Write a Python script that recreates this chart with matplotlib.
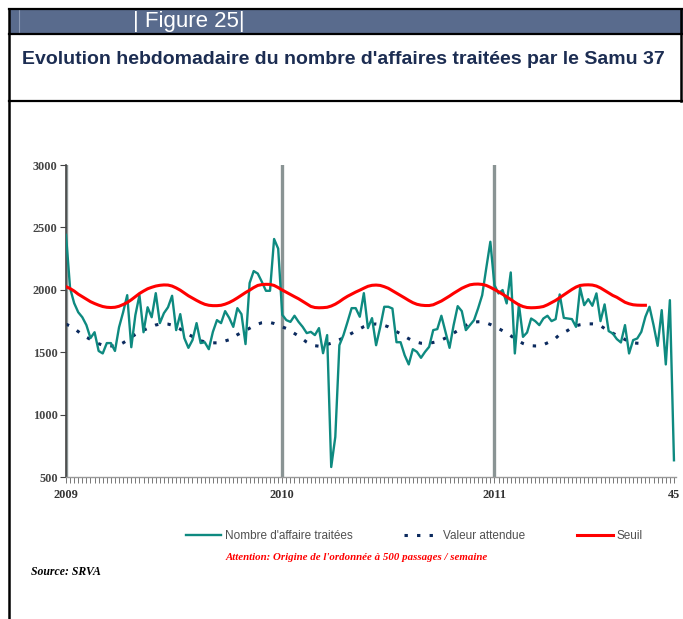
import numpy as np
import matplotlib
matplotlib.use('Agg')
import matplotlib.pyplot as plt
from matplotlib.lines import Line2D
from matplotlib.patches import Rectangle

# weekly values, week 1 of 2009 to week 45 of 2011
affaires = [2440, 2013, 1893, 1820, 1780, 1717, 1613, 1660, 1510, 1490,
            1573, 1573, 1510, 1700, 1820, 1957, 1540, 1797, 1957, 1660,
            1860, 1780, 1973, 1733, 1813, 1860, 1952, 1677, 1805, 1613,
            1535, 1597, 1733, 1573, 1580, 1524, 1663, 1757, 1733, 1829,
            1775, 1703, 1853, 1805, 1565, 2054, 2150, 2130, 2064, 1992,
            1992, 2407, 2330, 1800, 1757, 1743, 1792, 1743, 1703, 1653,
            1663, 1637, 1693, 1492, 1637, 580, 821, 1556, 1637, 1743,
            1853, 1853, 1784, 1973, 1693, 1773, 1556, 1700, 1864, 1864,
            1850, 1580, 1580, 1476, 1402, 1524, 1503, 1455, 1503, 1543,
            1677, 1685, 1792, 1663, 1535, 1717, 1869, 1829, 1677, 1717,
            1757, 1851, 1957, 2174, 2385, 2038, 1971, 1998, 1891, 2139,
            1490, 1883, 1623, 1658, 1770, 1749, 1717, 1770, 1792, 1749,
            1765, 1963, 1775, 1770, 1765, 1703, 2016, 1877, 1925, 1872,
            1971, 1749, 1883, 1669, 1650, 1605, 1578, 1717, 1490, 1597,
            1610, 1663, 1784, 1864, 1717, 1551, 1837, 1402, 1917, 634]

attendue = [1725, 1710, 1690, 1665, 1640, 1620, 1603, 1585, 1568, 1557,
            1552, 1550, 1550, 1558, 1575, 1595, 1620, 1642, 1660, 1677,
            1690, 1705, 1718, 1725, 1727, 1725, 1717, 1703, 1685, 1665,
            1643, 1625, 1608, 1592, 1583, 1578, 1575, 1575, 1580, 1590,
            1600, 1620, 1640, 1657, 1675, 1692, 1710, 1725, 1736, 1740,
            1738, 1730, 1718, 1703, 1690, 1670, 1650, 1630, 1605, 1580,
            1562, 1552, 1548, 1552, 1562, 1572, 1585, 1600, 1615, 1633,
            1652, 1670, 1688, 1705, 1718, 1724, 1726, 1723, 1715, 1703,
            1685, 1665, 1647, 1627, 1608, 1592, 1580, 1572, 1570, 1572,
            1578, 1585, 1598, 1613, 1633, 1652, 1672, 1693, 1715, 1732,
            1740, 1744, 1743, 1735, 1722, 1708, 1690, 1672, 1654, 1632,
            1608, 1588, 1570, 1558, 1552, 1550, 1550, 1560, 1575, 1590,
            1612, 1642, 1658, 1675, 1698, 1712, 1720, 1725, 1727, 1727,
            1725, 1712, 1690, 1670, 1652, 1635, 1618, 1600, 1585, 1575,
            1572, 1570, 1570]

seuil = [2025, 2010, 1990, 1965, 1945, 1925, 1905, 1890, 1877, 1866,
         1860, 1858, 1860, 1868, 1882, 1898, 1920, 1945, 1970, 1990,
         2008, 2020, 2030, 2036, 2039, 2038, 2030, 2015, 1997, 1975,
         1952, 1933, 1915, 1898, 1884, 1876, 1873, 1873, 1876, 1885,
         1898, 1915, 1935, 1957, 1978, 1997, 2018, 2035, 2042, 2044,
         2043, 2035, 2018, 1998, 1980, 1962, 1945, 1928, 1908, 1887,
         1867, 1858, 1856, 1857, 1860, 1870, 1885, 1905, 1928, 1948,
         1965, 1982, 1997, 2013, 2028, 2036, 2038, 2035, 2025, 2012,
         1993, 1975, 1955, 1935, 1915, 1897, 1884, 1877, 1874, 1874,
         1880, 1895, 1910, 1930, 1950, 1972, 1992, 2012, 2027, 2040,
         2045, 2046, 2043, 2035, 2020, 2003, 1985, 1965, 1944, 1922,
         1900, 1880, 1866, 1858, 1856, 1857, 1860, 1866, 1880, 1898,
         1915, 1937, 1960, 1982, 2003, 2022, 2035, 2039, 2040, 2038,
         2030, 2015, 1995, 1975, 1955, 1940, 1920, 1900, 1888, 1880,
         1877, 1876, 1876]

tick_pos = [0, 53, 105, 149]
tick_labels = ['2009', '2010', '2011', '45']
year_lines = [0, 53, 105]

W, H = 683, 619
fig = plt.figure(figsize=(W / 100, H / 100), dpi=100)

# frame and header band
fig.add_artist(Rectangle((9 / W, 1 - 34 / H), 1 - 9 / W, 25 / H, transform=fig.transFigure,
                         facecolor='#596b8d', edgecolor='none'))
fig.add_artist(Line2D([19 / W, 19 / W], [1 - 34 / H, 1 - 9 / H], transform=fig.transFigure,
                      color='#8c9ab5', lw=0.8))
for yy in [9, 34, 101]:
    fig.add_artist(Line2D([9 / W, 1], [1 - yy / H, 1 - yy / H], transform=fig.transFigure,
                          color='black', lw=1.6))
fig.add_artist(Line2D([9 / W, 9 / W], [0, 1 - 9 / H], transform=fig.transFigure, color='black', lw=1.8))
fig.add_artist(Line2D([681 / W, 681 / W], [1 - 101 / H, 1 - 9 / H], transform=fig.transFigure,
                      color='black', lw=1.8))

fig.text(133 / W, 1 - 22 / H, '| Figure 25|', color='white', fontsize=16,
         family='Liberation Sans', va='center', ha='left')
fig.text(22 / W, 1 - 59 / H, "Evolution hebdomadaire du nombre d'affaires traitées par le Samu 37",
         color='#1c2d52', fontsize=14, fontweight='bold', family='Liberation Sans',
         va='center', ha='left')

ax = fig.add_axes([66 / W, 1 - 477 / H, (676 - 66) / W, (477 - 165) / H])
weeks = np.arange(len(affaires))

for xv in year_lines:
    ax.axvline(xv, color='#8a9494', lw=2.4, zorder=1)

ax.plot(weeks, affaires, color='#0e8a80', lw=1.7, zorder=3, label="Nombre d'affaire traitées")
ax.plot(np.arange(len(attendue)), attendue, color='#0b2a5e', lw=2.2,
        linestyle=(0, (1.1, 3.0)), dash_capstyle='butt', zorder=2, label='Valeur attendue')
ax.plot(np.arange(len(seuil)), seuil, color='#ff0000', lw=2.2, zorder=4, label='Seuil')

ax.set_xlim(0, 149.5)
ax.set_ylim(500, 3000)
ax.set_yticks(range(500, 3001, 500))
ax.set_xticks(tick_pos)
ax.set_xticklabels(tick_labels)
ax.set_xticks(weeks, minor=True)
for lab in ax.get_xticklabels() + ax.get_yticklabels():
    lab.set_family('Liberation Serif')
    lab.set_fontweight('bold')
    lab.set_fontsize(8.8)
    lab.set_color('#333333')
ax.tick_params(axis='x', which='both', direction='out', length=4, width=0.7, colors='#777777',
               labelcolor='#333333', pad=5)
ax.tick_params(axis='y', direction='out', length=4, width=0.8, colors='#444444', pad=2)
for s in ['top', 'right']:
    ax.spines[s].set_visible(False)
ax.spines['left'].set_color('#444444')
ax.spines['left'].set_linewidth(1.2)
ax.spines['bottom'].set_color('#999999')
ax.spines['bottom'].set_linewidth(1.0)

leg = fig.legend(loc='center', bbox_to_anchor=(414 / W, 1 - 536 / H), ncol=3, frameon=False,
                 handlelength=3.0, handletextpad=0.3, columnspacing=4.4,
                 prop={'family': 'Liberation Sans', 'size': 8.5})
for t in leg.get_texts():
    t.set_color('#505050')

fig.text(357 / W, 1 - 557 / H, "Attention: Origine de l'ordonnée à 500 passages / semaine",
         color='#ff0000', fontsize=7.8, fontweight='bold', fontstyle='italic',
         family='Liberation Serif', ha='center', va='center')
fig.text(31 / W, 1 - 572 / H, 'Source: SRVA', color='black', fontsize=8.5, fontweight='bold',
         fontstyle='italic', family='Liberation Serif', ha='left', va='center')

fig.savefig('out.png', dpi=100)
